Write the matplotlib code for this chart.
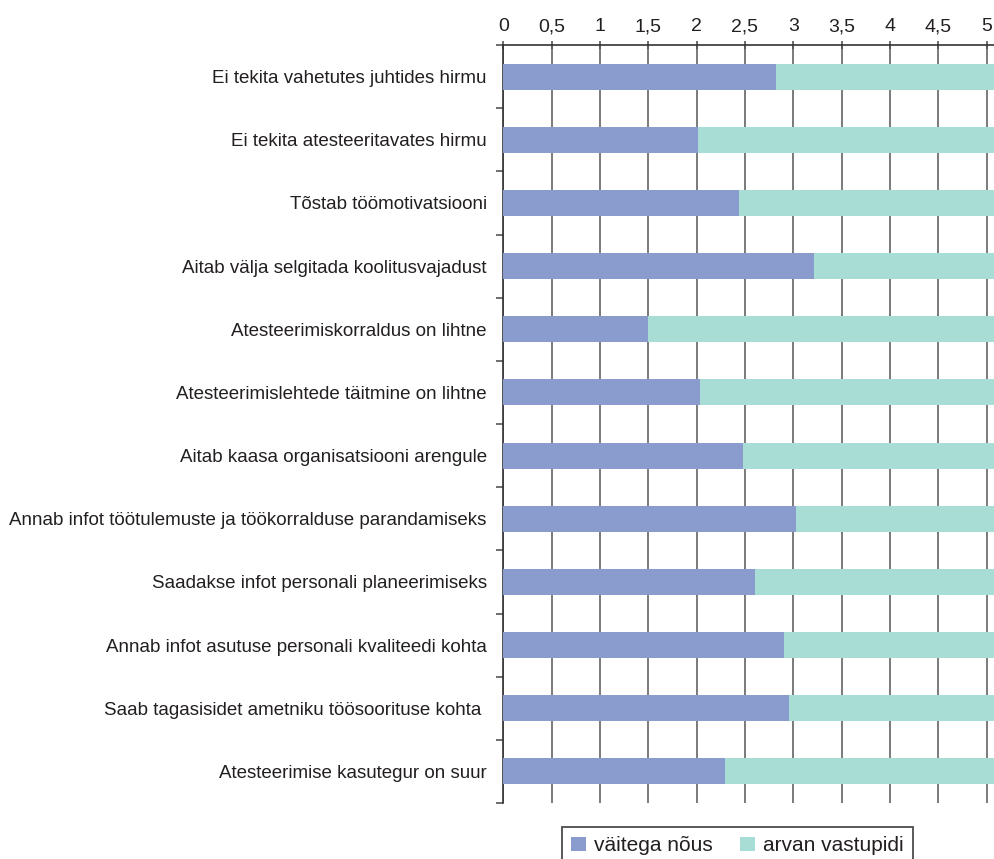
import matplotlib
matplotlib.use("Agg")
import matplotlib.pyplot as plt
import numpy as np
from matplotlib.ticker import MultipleLocator, FuncFormatter

plt.rcParams['font.family'] = ['Liberation Sans', 'DejaVu Sans']

categories = [
    "Ei tekita vahetutes juhtides hirmu",
    "Ei tekita atesteeritavates hirmu",
    "Tõstab töömotivatsiooni",
    "Aitab välja selgitada koolitusvajadust",
    "Atesteerimiskorraldus on lihtne",
    "Atesteerimislehtede täitmine on lihtne",
    "Aitab kaasa organisatsiooni arengule",
    "Annab infot töötulemuste ja töökorralduse parandamiseks",
    "Saadakse infot personali planeerimiseks",
    "Annab infot asutuse personali kvaliteedi kohta",
    "Saab tagasisidet ametniku töösoorituse kohta ",
    "Atesteerimise kasutegur on suur",
]

agree = [2.82, 2.01, 2.44, 3.21, 1.50, 2.03, 2.48, 3.03, 2.60, 2.90, 2.96, 2.29]
disagree = [2.38, 3.19, 2.76, 1.99, 3.70, 3.17, 2.72, 2.17, 2.60, 2.30, 2.24, 2.91]

series_names = ["väitega nõus", "arvan vastupidi"]
colors = ["#8A9BCE", "#A8DDD6"]
text_color = "#231F20"

fig = plt.figure(figsize=(9.95, 8.59), dpi=100)
ax = fig.add_axes([503.3 / 995, 1 - 803 / 859, 1 - 503.3 / 995, (803 - 45) / 859])

y = np.arange(len(categories))
ax.barh(y, agree, height=0.41, color=colors[0], label=series_names[0], zorder=3)
ax.barh(y, disagree, left=agree, height=0.41, color=colors[1], label=series_names[1], zorder=3)

ax.set_xlim(0, (995 - 503.3) / 96.67)
ax.set_ylim(len(categories) - 0.5, -0.5)

ax.xaxis.set_major_locator(MultipleLocator(0.5))
ax.xaxis.set_major_formatter(FuncFormatter(lambda v, p: f"{v:g}".replace(".", ",")))
ax.xaxis.tick_top()
ax.tick_params(axis='x', which='major', direction='inout', length=6, width=1.2,
               color="#555555", labelsize=14, labelcolor=text_color, pad=7)
for lbl in ax.get_xticklabels():
    lbl.set_verticalalignment('baseline')
ax.grid(axis='x', color="#7a7a7a", linewidth=1.4, zorder=0)

ax.set_yticks(y)
ax.set_yticklabels(categories, fontsize=13.5, color=text_color)
ax.set_yticks(np.arange(len(categories) + 1) - 0.5, minor=True)
ax.tick_params(axis='y', which='major', length=0, pad=12)
ax.tick_params(axis='y', which='minor', length=5, width=1.2, color="#555555", direction='out')

for side in ['right', 'bottom']:
    ax.spines[side].set_visible(False)
for side in ['left', 'top']:
    ax.spines[side].set_color("#333333")
    ax.spines[side].set_linewidth(1.2)

leg = fig.legend(loc='upper center', bbox_to_anchor=(737.5 / 995, 1 - 827 / 859),
                 ncol=2, fontsize=15, frameon=True, fancybox=False,
                 handlelength=0.7, handleheight=0.7, handletextpad=0.4,
                 columnspacing=1.3, borderpad=0.45, borderaxespad=0)
leg.get_frame().set_edgecolor("#231F20")
leg.get_frame().set_linewidth(1.3)
for t in leg.get_texts():
    t.set_color(text_color)

fig.savefig("out.png", dpi=100)
